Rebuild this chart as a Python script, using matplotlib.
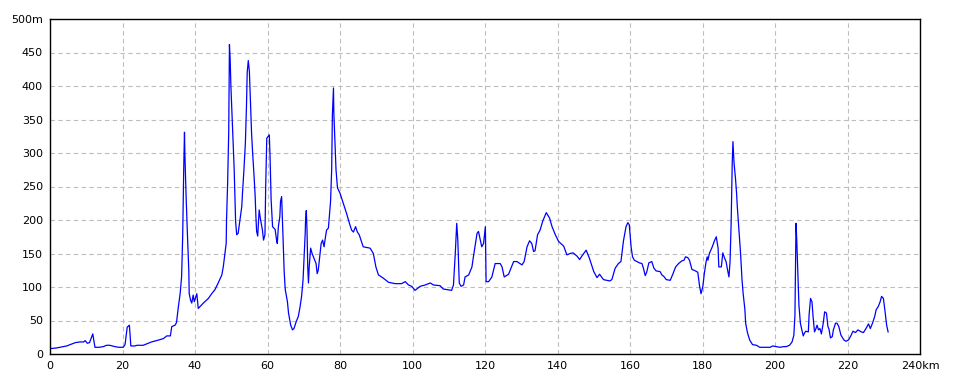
import matplotlib
matplotlib.use("Agg")
import matplotlib.pyplot as plt

# distance (km) and elevation (m)
km = [0, 1.8, 3.7, 4.6, 6, 7, 8.3, 9.3, 9.7, 10.3, 10.9, 11.8, 12.4, 13.5, 14.7, 15.6, 16.5, 17.9,
      19, 20.2, 20.7, 21.3, 21.9, 22.3, 23.4, 24, 24.8, 25.7, 26.6, 28, 29.4, 31.3, 32.2, 33.2,
      33.6, 34.5, 34.9, 35.4, 35.9, 36.3, 36.6, 36.9, 37.1, 37.2, 37.5, 37.9, 38.3, 38.4, 38.8,
      39.1, 39.5, 39.8, 40.5, 40.9, 42.3, 43.7, 44.6, 45.5, 46.4, 47.4, 47.8, 48.6, 48.7, 49.0,
      49.3, 49.5, 49.7, 49.9, 50.2, 50.5, 50.8, 51.0, 51.2, 51.5, 51.9, 52.4, 52.9, 53.1, 53.5,
      53.9, 54.2, 54.4, 54.7, 55.0, 55.2, 55.4, 55.6, 55.9, 56.3, 56.6, 56.8, 57.0, 57.3, 57.7,
      58.1, 58.6, 58.9, 59.3, 59.5, 59.8, 60.5, 60.7, 61.0, 61.4, 62.1, 62.5, 62.7, 63.0, 63.4,
      63.6, 63.9, 64.2, 64.4, 64.6, 64.9, 65.5, 65.8, 66.4, 66.9, 67.3, 67.9, 68.5, 69.0, 69.4,
      69.8, 70.1, 70.4, 70.5, 70.7, 70.9, 71.1, 71.3, 71.5, 71.9, 72.3, 72.8, 73.4, 73.7, 74.0,
      74.5, 74.8, 75.2, 75.6, 76.0, 76.3, 76.8, 77.4, 77.7, 77.9, 78.2, 78.3, 78.9, 79.3, 80.0,
      80.9, 81.8, 82.6, 83.2, 83.7, 84.3, 84.8, 85.3, 86.4, 88.3, 89.2, 89.9, 90.6, 92.0, 93.4,
      95.2, 97.0, 98.0, 98.9, 99.8, 100.7, 102.1, 103.5, 104.9, 105.8, 107.6, 108.5, 110.8,
      111.3, 111.8, 112.2, 112.5, 112.9, 113.4, 114.1, 114.5, 115.5, 116.4, 116.8, 117.8, 118.2,
      118.7, 119.1, 119.6, 120.1, 120.3, 121.0, 121.9, 122.8, 124.2, 124.7, 125.3, 126.5, 127.9,
      128.8, 130.2, 130.8, 131.6, 132.3, 132.9, 133.4, 133.8, 134.5, 135.2, 135.9, 136.9, 137.8,
      138.5, 139.4, 140.3, 141.7, 142.6, 143.5, 144.3, 145.4, 146.1, 146.7, 147.9, 148.8, 150.0,
      150.9, 151.6, 152.7, 154.4, 155.0, 155.9, 156.8, 157.5, 158.2, 158.9, 159.4, 159.8, 160.3,
      160.7, 161.2, 162.6, 163.3, 163.7, 164.2, 164.6, 165.2, 166.0, 166.6, 167.2, 168.3, 168.8,
      169.3, 170.0, 171.1, 171.8, 172.6, 173.4, 174.3, 174.9, 175.3, 175.9, 176.4, 177.1, 177.7,
      178.7, 179.2, 179.6, 180.1, 180.5, 181.0, 181.3, 181.5, 181.9, 182.7, 183.3, 183.8, 184.3,
      184.5, 185.2, 185.6, 186.1, 186.5, 187.0, 187.3, 187.6, 187.9, 188.2, 188.4, 188.7, 189.1,
      189.4, 189.6, 190.1, 190.5, 190.9, 191.2, 191.7, 191.9, 192.4, 193.0, 193.8, 194.9, 195.8,
      197.6, 198.7, 199.3, 200.3, 201.4, 202.3, 203.1, 204.0, 204.7, 205.2, 205.5, 205.8, 206.0,
      206.3, 206.6, 207.0, 207.4, 207.8, 208.1, 208.5, 209.2, 209.4, 209.8, 210.2, 210.5, 210.9,
      211.3, 211.6, 212.0, 212.4, 212.8, 213.3, 213.7, 214.2, 214.6, 214.9, 215.3, 215.8, 216.1,
      216.7, 217.1, 217.6, 218.2, 219.0, 219.6, 220.3, 221.0, 221.5, 222.2, 222.9, 223.8, 224.4,
      225.1, 225.8, 226.3, 226.9, 227.5, 227.9, 228.5, 229.0, 229.4, 229.9, 230.3, 230.8, 231.2]
elev = [8, 9, 11, 12, 15, 17, 18, 18, 20, 16, 17, 30, 10, 10, 11, 13, 13, 11,
        10, 10, 14, 40, 43, 12, 12, 13, 13, 13, 15, 18, 20, 23, 27, 27,
        41, 43, 47, 70, 90, 115, 175, 280, 331, 300, 243, 180, 123, 90, 80,
        76, 88, 78, 90, 68, 76, 83, 90, 96, 106, 118, 130, 165, 200, 255,
        330, 462, 440, 400, 360, 320, 277, 240, 198, 178, 180, 200, 220, 240, 275,
        315, 370, 420, 438, 422, 390, 360, 330, 300, 265, 235, 205, 183, 176, 215,
        200, 185, 170, 178, 250, 322, 327, 295, 230, 190, 186, 170, 165, 190, 205,
        228, 235, 185, 155, 123, 96, 78, 61, 43, 36, 38, 48, 56, 71, 86,
        110, 145, 180, 200, 214, 185, 130, 106, 130, 158, 150, 143, 135, 120, 125,
        150, 165, 170, 160, 175, 185, 188, 228, 275, 357, 397, 360, 275, 248, 240,
        225, 210, 195, 185, 182, 190, 182, 178, 160, 158, 150, 130, 118, 113, 107,
        105, 105, 108, 103, 101, 95, 101, 103, 106, 103, 102, 97, 95,
        103, 150, 195, 170, 106, 101, 103, 115, 118, 130, 145, 180, 183,
        170, 160, 165, 190, 108, 108, 115, 135, 135, 130, 115, 119, 138,
        138, 133, 138, 160, 169, 165, 153, 154, 178, 185, 198, 211, 203,
        190, 178, 168, 161, 148, 150, 151, 146, 141, 146, 155, 143, 123,
        114, 119, 111, 109, 111, 128, 135, 138, 169, 190, 196, 193, 160,
        145, 140, 136, 135, 128, 117, 122, 136, 138, 128, 124, 123, 118,
        116, 111, 110, 119, 130, 135, 139, 140, 145, 144, 140, 126, 125,
        122, 101, 90, 101, 120, 138, 145, 140, 150, 160, 169, 175, 158,
        130, 130, 151, 143, 138, 123, 115, 138, 195, 285, 317, 285, 262,
        240, 220, 180, 150, 111, 91, 66, 46, 32, 21, 14, 13, 10,
        10, 10, 12, 11, 10, 11, 11, 13, 18, 28, 58, 195, 170,
        120, 73, 46, 36, 27, 31, 34, 33, 58, 83, 78, 56, 33,
        38, 43, 36, 38, 30, 46, 63, 61, 41, 37, 24, 26, 36,
        46, 46, 41, 28, 21, 19, 21, 28, 34, 32, 36, 33, 32,
        38, 45, 38, 46, 56, 66, 71, 78, 86, 83, 66, 43, 33]

x_ticks = [0, 20, 40, 60, 80, 100, 120, 140, 160, 180, 200, 220, 240]
x_labels = ["0", "20", "40", "60", "80", "100", "120", "140", "160", "180", "200", "220", "240km"]
y_ticks = [0, 50, 100, 150, 200, 250, 300, 350, 400, 450, 500]
y_labels = ["0", "50", "100", "150", "200", "250", "300", "350", "400", "450", "500m"]

fig = plt.figure(figsize=(9.6, 3.84), dpi=100)
ax = fig.add_axes([50 / 960, 1 - 354 / 384, 870 / 960, 335 / 384])

ax.plot(km, elev, color=(0, 0, 1), lw=0.9)

ax.set_xlim(0, 240)
ax.set_ylim(0, 500)
ax.set_xticks(x_ticks)
ax.set_xticklabels(x_labels)
ax.set_yticks(y_ticks)
ax.set_yticklabels(y_labels)
ax.tick_params(length=0, labelsize=8, pad=5)
ax.grid(True, color="#bdbdbd", linestyle=(0, (4, 3)), lw=0.8)
for s in ax.spines.values():
    s.set_color("black")
    s.set_linewidth(1.0)

fig.savefig("out.png", dpi=100)
